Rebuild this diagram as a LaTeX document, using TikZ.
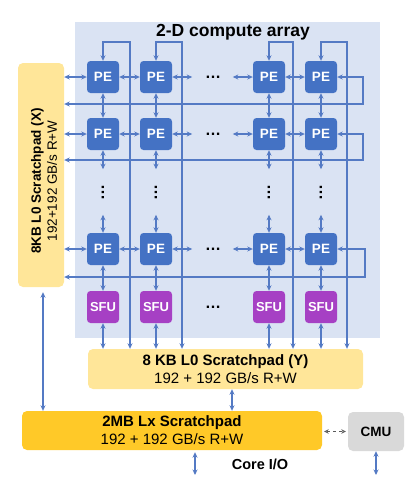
\documentclass[tikz,border=0pt]{standalone}
\usepackage{fontspec}
\setmainfont{Liberation Sans}
\usetikzlibrary{arrows.meta,calc}
\definecolor{bgblue}{RGB}{218,227,243}
\definecolor{peblue}{RGB}{68,114,196}
\definecolor{lineblue}{RGB}{84,122,196}
\definecolor{sfupurple}{RGB}{166,64,196}
\definecolor{padyellow}{RGB}{255,230,153}
\definecolor{lxgold}{RGB}{255,201,40}
\definecolor{cmugray}{RGB}{217,217,217}
\definecolor{dashgray}{RGB}{90,90,90}
\begin{document}
\begin{tikzpicture}[x=1pt,y=-1pt,
  tip/.tip={Stealth[length=5.5pt,width=5pt]},
  ln/.style={draw=lineblue, line width=1.1pt},
  dbl/.style={ln, tip-tip},
  pe/.style={rectangle, rounded corners=3.5pt, fill=peblue, minimum width=32pt, minimum height=32pt, text=white, font=\fontsize{13.5}{15}\selectfont\bfseries, inner sep=0pt},
  sfu/.style={pe, fill=sfupurple, font=\fontsize{13}{15}\selectfont\bfseries},
  pad/.style={rectangle, rounded corners=5pt, fill=padyellow, inner sep=0pt, align=center},
  dotsnode/.style={font=\fontsize{16}{16}\selectfont\bfseries, inner sep=0pt},
  padtext/.style={align=center, font=\fontsize{15}{18}\selectfont, inner sep=0pt}
]
\useasboundingbox (0,0) rectangle (420,483);
\fill[bgblue] (75,22) rectangle (380,338);
\node[font=\fontsize{17.5}{19}\selectfont\bfseries, inner sep=0pt] (title) at (233,32) {2-D compute array};

% scratchpads
\node[pad, minimum width=46pt, minimum height=224pt] (xpad) at (41,175) {};
\node[padtext, rotate=90, font=\fontsize{13.5}{16}\selectfont] (xpadtext) at (44,181) {\textbf{8KB L0 Scratchpad (X)}\\192+192 GB/s R+W};
\node[pad, minimum width=275pt, minimum height=40pt] (ypad) at (225.5,369) {};
\node[padtext] (ypadtext) at (ypad.center) {\textbf{8 KB L0 Scratchpad (Y)}\\192 + 192 GB/s R+W};
\node[pad, fill=lxgold, minimum width=300pt, minimum height=39pt] (lxpad) at (172,430.5) {};
\node[padtext] (lxpadtext) at (lxpad.center) {\textbf{2MB Lx Scratchpad}\\192 + 192 GB/s R+W};
\node[pad, fill=cmugray, minimum width=56pt, minimum height=39pt, font=\fontsize{13.5}{15}\selectfont\bfseries] (cmu) at (376,431.5) {CMU};
\node[font=\fontsize{14.5}{16}\selectfont\bfseries, inner sep=0pt] (coreio) at (260,464) {Core I/O};

% PEs and SFUs
\foreach \c/\x in {1/103,2/156,3/269,4/321}{
  \foreach \r/\y in {1/77,2/134,3/249}{
    \node[pe] (p\r\c) at (\x,\y) {PE};
  }
  \node[sfu] (s\c) at (\x,307) {SFU};
  \node[dotsnode, rotate=90] (vd\c) at (\x,192) {…};
}
\foreach \r/\y in {1/77,2/134,3/249}{
  \node[dotsnode] (hd\r) at (213,\y) {…};
}
\node[dotsnode] (hds) at (213,307) {…};

% loops from top into PEs, down to Y pad
\foreach \c/\lx in {1/130,2/182,3/293,4/347}{
  \draw[dbl] (ypad.north -| \lx,0) -- (\lx,42) -| (p1\c.north);
  \draw[dbl] (s\c.south) -- (s\c.south |- ypad.north);
  \draw[dbl] (p1\c.south) -- (p2\c.north);
  \draw[dbl] (p2\c.south) -- ++(0,19);
  \draw[dbl] (p3\c.north) -- ++(0,-18);
  \draw[dbl] (p3\c.south) -- (s\c.north);
}

% horizontal links and feedback
\foreach \r/\y/\fx/\fy in {1/77/363/104,2/134/363/160,3/249/365/277}{
  \draw[dbl] (xpad.east |- p\r1) -- (p\r1.west);
  \draw[dbl] (p\r1.east) -- (p\r2.west);
  \draw[dbl] (p\r2.east) -- ++(20,0);
  \draw[dbl] (p\r3.west) -- ++(-20,0);
  \draw[dbl] (p\r3.east) -- (p\r4.west);
  \draw[dbl] (p\r4.east) -- (\fx,\y) -- (\fx,\fy) -- (xpad.east |- \fx,\fy);
}

% memory links
\draw[dbl] ([yshift=-5pt]xpad.south -| 43,0) -- (lxpad.north -| 43,0);
\draw[dbl] (ypad.south -| 232,0) -- (lxpad.north -| 232,0);
\draw[dbl] ([yshift=-2pt]lxpad.south -| 195,0) -- (195,475);
\draw[dbl] (cmu.south) -- (376,475);
\draw[draw=dashgray, line width=0.6pt, dashed, {Stealth[length=4.5pt,width=4.5pt,open]}-{Stealth[length=4.5pt,width=4.5pt,open]}] ([xshift=2pt]lxpad.east |- cmu) -- ([xshift=-2pt]cmu.west);
\end{tikzpicture}
\end{document}
